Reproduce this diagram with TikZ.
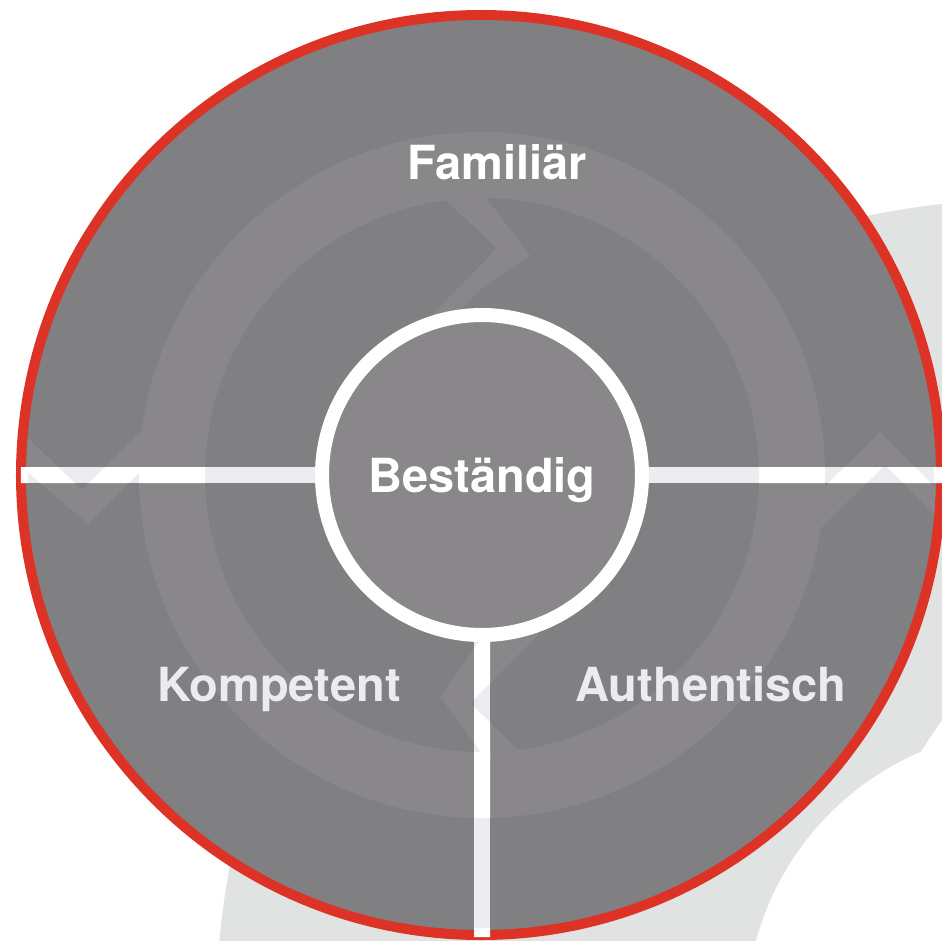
\documentclass[tikz,border=0pt]{standalone}
\usepackage{fontspec}
\setmainfont{TeX Gyre Heros}
\usepackage{tikz}
\usepackage{xcolor}
\definecolor{diskgray}{RGB}{128,127,129}
\definecolor{swirlgray}{RGB}{137,135,138}
\definecolor{rimred}{RGB}{221,51,38}
\definecolor{barwhite}{RGB}{236,237,240}
\definecolor{backgray}{RGB}{224,227,226}
\definecolor{softwhite}{RGB}{236,236,239}

\newcommand{\swirl}[1]{%
  \draw[line width = 66, color = #1] (0,0) circle (310);
  \fill[color = #1] (-455,38) -- (-400,-15) -- (-330,55) -- (-330,15) -- (-394,-49) -- (-458,6) -- cycle;
  \fill[color = #1] (336,-18) -- (398,43) -- (460,-19) -- (460,-47) -- (403,10) -- (335,-57) -- cycle;
  \fill[color = #1] (-44,282) -- (15,227) -- (-45,165) -- (-85,128) -- (-50,135) -- (-2,185) -- (48,220) -- (0,282) -- cycle;
  \fill[color = #1] (5,-285) -- (-42,-222) -- (10,-148) -- (50,-140) -- (58,-158) -- (-12,-228) -- (45,-283) -- cycle;
}

\begin{document}
\begin{tikzpicture}[x = 1pt, y = 1pt,
  word/.style = {anchor = base, font = \fontsize{47}{50}\selectfont\bfseries},
  core/.style = {circle, minimum size = 320, inner sep = 0, line width = 14, draw = white,
    fill = swirlgray, text = white, text depth = 0pt, font = \fontsize{47}{50}\selectfont\bfseries},
  bar/.style = {line width = 16, color = barwhite}]
	\useasboundingbox (-482,-465) rectangle (460,475);
	\begin{scope}
		\clip (-482,-465) rectangle (460,475);
		\fill[backgray, even odd rule] (551,-541) circle (817) (551,-541) circle (287);
		\fill[white] (460,-245) -- (434,-284) -- (470,-300) -- cycle;
	\end{scope}
	\fill[color = diskgray] (-1,0) circle (458);
	\swirl{swirlgray}
	\draw[line width = 10, color = rimred] (-1,0) circle (460);
	\node[core] (core) at (0,0) {Beständig};
	\coordinate (west end) at (-461,0);
	\coordinate (east end) at (460,0);
	\coordinate (south end) at (0,-462);
	\draw[bar] (core.west) -- (west end);
	\draw[bar] (core.east) -- (east end);
	\draw[bar] (core.south) -- (south end);
	\begin{scope}
		\clip (-461,-8) rectangle (460,8) (-8,-462) rectangle (8,-160);
		\swirl{white}
		\draw[line width = 30, color = white] (-1,0) circle (468);
	\end{scope}
	\node[word, text = white] (familiar) at (15,295) {Familiär};
	\node[word, text = softwhite] (kompetent) at (-203,-226) {Kompetent};
	\node[word, text = softwhite] (authentisch) at (229,-226) {Authentisch};
\end{tikzpicture}
\end{document}
